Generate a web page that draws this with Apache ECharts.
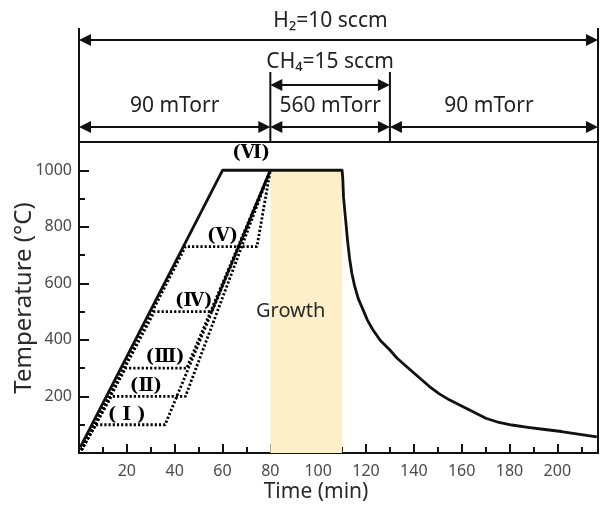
<!DOCTYPE html>
<html>
<head>
<meta charset="utf-8">
<script src="https://cdn.jsdelivr.net/npm/echarts@6/dist/echarts.min.js"></script>
<style>html,body{margin:0;padding:0;background:#fff}#c{width:601px;height:506px}</style>
</head>
<body>
<div id="c"></div>
<script>
// ---- axis ranges & tick labels ----
const xMin = 0, xMax = 217, xStep = 20;
const yMin = 0, yMax = 1100, yStep = 200;
const xTickLabels = [20, 40, 60, 80, 100, 120, 140, 160, 180, 200];
const yTickLabels = [200, 400, 600, 800, 1000];

// ---- main temperature profile (solid): heating + hold + cooling ----
const profileTime = [0.5, 60, 110, 110.3, 110.6, 111.2, 111.7, 112.3, 113.1, 114.1, 115.2, 116.8, 118.7, 120.6, 122.8, 126, 129.8, 133, 136.8, 142.3, 146.4, 150.5, 154.8, 163.1, 170.1, 175.6, 181, 187.7, 194, 201.7, 208, 216.5];
const profileTemp = [20, 1000, 1000, 970, 905, 850, 805, 750, 690, 635, 592, 545, 508, 470, 437, 398, 366, 335, 307, 266, 236, 210, 188, 153, 123, 108, 99, 91, 84, 76, 68, 57];

// ---- stepped (dotted) heating cases I..V ----
const stageTemps     = [100, 200, 300, 500, 730];
const stageHoldStart = [7, 13.5, 19.5, 31.5, 44.5];
const stageHoldEnd   = [36, 44.5, 45, 55.5, 74.4];
const rampOrigin     = [1, 10];
const growthStart = 80, growthEnd = 110, growthTemp = 1000;

// ---- labels ----
const stageNames  = ['( Ⅰ )', '(Ⅱ)', '(Ⅲ)', '(Ⅳ)', '(Ⅴ)', '(Ⅵ)'];
const stageLabelX = [20, 28, 36, 48, 60, 72];
const stageLabelY = [135, 235, 337, 537, 768, 1060];
const growthLabel = 'Growth';
const growthLabelX = 88.5, growthLabelY = 500;

// ---- gas / pressure annotations ----
const h2Span = [0, 217], h2Text = 'H₂=10 sccm';
const ch4Span = [80, 130], ch4Text = 'CH₄=15 sccm';
const pressureBounds = [0, 80, 130, 217];
const pressureTexts = ['90 mTorr', '560 mTorr', '90 mTorr'];

const FONT = '"Noto Sans", "Open Sans", sans-serif';

const chart = echarts.init(document.getElementById('c'), null, {renderer: 'canvas'});

const stageSeries = stageTemps.map((t, i) => ({
  type: 'line', silent: true, symbol: 'none', z: 3,
  data: [rampOrigin, [stageHoldStart[i], t], [stageHoldEnd[i], t], [growthStart, growthTemp]],
  lineStyle: {color: '#000', width: 2.8, type: [2.2, 2]}
}));

const option = {
  animation: false,
  grid: {left: 79, right: 2, top: 142, bottom: 53, show: true, borderColor: '#111', borderWidth: 2, backgroundColor: 'transparent'},
  xAxis: {
    type: 'value', min: xMin, max: xMax, interval: xStep,
    axisLine: {show: true, lineStyle: {color: '#111', width: 2}},
    axisTick: {show: true, inside: true, length: 9, lineStyle: {color: '#111', width: 2}},
    minorTick: {show: true, splitNumber: 2, length: 6, lineStyle: {color: '#111', width: 2}},
    splitLine: {show: false},
    axisLabel: {
      margin: 10, color: '#4a4a4a', fontSize: 16, fontFamily: FONT,
      formatter: v => xTickLabels.includes(v) ? String(v) : ''
    }
  },
  yAxis: {
    type: 'value', min: yMin, max: yMax, interval: yStep,
    axisLine: {show: true, lineStyle: {color: '#111', width: 2}},
    axisTick: {show: true, inside: true, length: 10, lineStyle: {color: '#111', width: 2}},
    minorTick: {show: true, splitNumber: 2, length: 6, lineStyle: {color: '#111', width: 2}},
    splitLine: {show: false},
    axisLabel: {
      margin: 7, color: '#4a4a4a', fontSize: 16, fontFamily: FONT,
      formatter: v => yTickLabels.includes(v) ? String(v) : ''
    }
  },
  series: [
    {
      type: 'line', silent: true, symbol: 'none', z: 4,
      data: profileTime.map((t, i) => [t, profileTemp[i]]),
      lineStyle: {color: '#111', width: 2.8, join: 'round'},
      markArea: {
        silent: true, z: 1,
        itemStyle: {color: '#fdf0c8'},
        data: [[{xAxis: growthStart, yAxis: yMin}, {xAxis: growthEnd, yAxis: growthTemp}]]
      }
    },
    ...stageSeries,
    {
      type: 'scatter', silent: true, symbolSize: 0, z: 6,
      itemStyle: {opacity: 1},
      data: stageNames.map((n, i) => ({name: n, value: [stageLabelX[i], stageLabelY[i]]}))
        .concat([{name: growthLabel, value: [growthLabelX, growthLabelY],
                  label: {fontSize: 20, color: '#2a2a2a', fontWeight: 'normal', fontFamily: FONT}}]),
      label: {
        show: true, position: 'inside', formatter: p => p.name, opacity: 1,
        color: '#000', fontSize: 18, fontWeight: 'bold', textBorderWidth: 0,
        fontFamily: '"DejaVu Serif", "Noto Sans CJK KR", serif'
      },
      labelLayout: {hideOverlap: false}
    }
  ]
};
chart.setOption(option);

// ---- top annotations ----
const px = v => chart.convertToPixel({xAxisIndex: 0}, v);
const gridTop = 142;
const lineCol = '#111';
const els = [];
function arrow(x1, x2, y) {
  const L = 12, H = 6;
  els.push({type: 'line', shape: {x1: x1 + 2, y1: y, x2: x2 - 2, y2: y}, style: {stroke: lineCol, lineWidth: 2}});
  els.push({type: 'polygon', shape: {points: [[x1, y], [x1 + L, y - H], [x1 + L, y + H]]}, style: {fill: lineCol}});
  els.push({type: 'polygon', shape: {points: [[x2, y], [x2 - L, y - H], [x2 - L, y + H]]}, style: {fill: lineCol}});
}
function vline(x, y1) {
  els.push({type: 'line', shape: {x1: x, y1: y1, x2: x, y2: gridTop}, style: {stroke: lineCol, lineWidth: 2}});
}
function text(str, x, y, size) {
  els.push({type: 'text', x: x, y: y, style: {text: str, fill: '#222', font: size + 'px ' + FONT, align: 'center', verticalAlign: 'middle'}});
}
vline(px(h2Span[0]), 28);
vline(px(h2Span[1]), 28);
vline(px(ch4Span[0]), 72);
vline(px(ch4Span[1]), 72);
arrow(px(h2Span[0]), px(h2Span[1]), 40);
text(h2Text, (px(h2Span[0]) + px(h2Span[1])) / 2 - 8, 21, 21);
arrow(px(ch4Span[0]), px(ch4Span[1]), 85);
text(ch4Text, (px(ch4Span[0]) + px(ch4Span[1])) / 2, 62, 21);
for (let i = 0; i < pressureTexts.length; i++) {
  const a = px(pressureBounds[i]), b = px(pressureBounds[i + 1]);
  arrow(a, b, 127);
  text(pressureTexts[i], (a + b) / 2 + (i === 2 ? -5 : 0), 106, 21);
}
els.push({type: 'text', x: 316, y: 492, style: {text: 'Time (min)', fill: '#2a2a2a', font: '21px ' + FONT, align: 'center', verticalAlign: 'middle'}});
els.push({type: 'text', x: 24, y: 298, rotation: Math.PI / 2, style: {text: 'Temperature (°C)', fill: '#2a2a2a', font: '24px ' + FONT, align: 'center', verticalAlign: 'middle'}});
chart.setOption({graphic: {elements: els}});
</script>
</body>
</html>
